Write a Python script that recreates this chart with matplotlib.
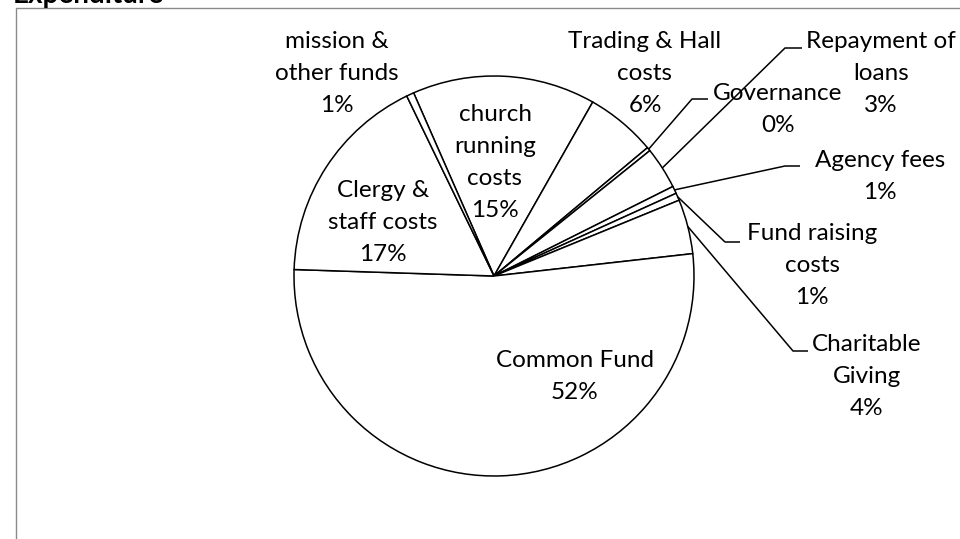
import matplotlib
matplotlib.use("Agg")
import matplotlib.pyplot as plt
import numpy as np

plt.rcParams['font.family'] = ['Lato', 'DejaVu Sans']

# expenditure shares (percent), clockwise from the top
names = ["church\nrunning\ncosts", "Trading & Hall\ncosts", "Governance",
         "Repayment of\nloans", "Agency fees", "Fund raising\ncosts",
         "Charitable\nGiving", "Common Fund", "Clergy &\nstaff costs",
         "mission &\nother funds"]
values = [14.8, 5.7, 0.3, 3.4, 0.6, 0.6, 4.4, 52.3, 17.3, 0.6]

# label placement in pixels from top-left: (centre x, first baseline y)
label_pos = [(495, 121), (645, 48), (778, 100), (881, 48), (880, 167),
             (812, 240), (867, 351), (575, 367), (383, 197), (337, 48)]
# labels joined to their slice by a leader line: index -> elbow point
leaders = {2: (692, 99, 708), 3: (785, 48, 802), 4: (785, 166, 800),
           5: (725, 242, 740), 6: (793, 351, 808)}

W, H = 960, 539
fig = plt.figure(figsize=(9.6, 5.39), dpi=100)
ax = fig.add_axes([0, 0, 1, 1])

cx, cy, R = 494, H - 276, 200
wedges, _ = ax.pie(values, startangle=113.7, counterclock=False,
                   center=(cx, cy), radius=R,
                   wedgeprops=dict(facecolor='white', edgecolor='black', linewidth=1.1))

ax.set_xlim(0, W)
ax.set_ylim(0, H)
ax.set_aspect('auto')
ax.axis('off')

pitch = 32
fs = 17.5
for i, (name, v) in enumerate(zip(names, values)):
    lines = name.split("\n") + ["%d%%" % round(v)]
    x, y0 = label_pos[i]
    for k, s in enumerate(lines):
        ax.text(x, H - (y0 + k * pitch), s, ha='center', va='baseline',
                fontsize=fs, color='black')

for i, (ex, ey, hx) in leaders.items():
    w = wedges[i]
    mid = np.deg2rad((w.theta1 + w.theta2) / 2)
    px, py = cx + R * np.cos(mid), cy + R * np.sin(mid)
    ax.plot([px, ex, hx], [py, H - ey, H - ey], color='black', lw=1.1,
            solid_capstyle='butt')

# chart border (cut off at right and bottom)
ax.plot([16, 16, W], [0, H - 8, H - 8], color='#8a8a8a', lw=1.0)
ax.text(13, H - 3.5, "Expenditure", ha='left', va='baseline',
        fontsize=20, fontweight='bold', color='black')

fig.savefig('out.png', dpi=100)
